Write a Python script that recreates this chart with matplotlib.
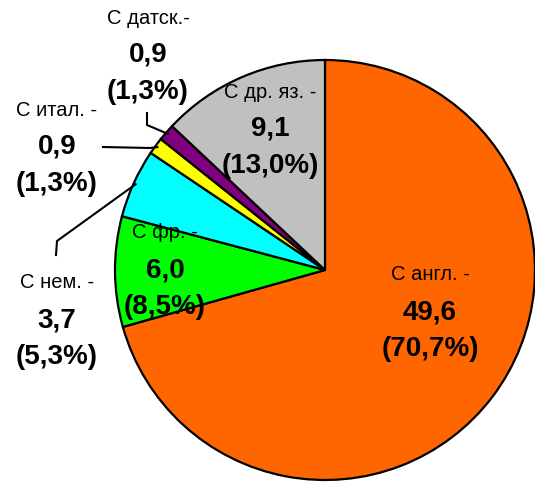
import matplotlib
matplotlib.use("Agg")
import matplotlib.pyplot as plt
import numpy as np

plt.rcParams['font.family'] = ['Liberation Sans', 'DejaVu Sans']

names = ["С англ. -", "С фр. -", "С нем. -", "С итал. -", "С датск.-", "С др. яз. -"]
values = [49.6, 6.0, 3.7, 0.9, 0.9, 9.1]
percents = [70.7, 8.5, 5.3, 1.3, 1.3, 13.0]
colors = ["#FF6600", "#00FF00", "#00FFFF", "#FFFF00", "#800080", "#C0C0C0"]

W, H = 535, 484
fig = plt.figure(figsize=(W / 100, H / 100), dpi=100)
ax = fig.add_axes([0, 0, 1, 1])

cx, cy, R = 325, H - 270, 210
wedges, _ = ax.pie(percents, colors=colors, startangle=90, counterclock=False,
                   center=(cx, cy), radius=R,
                   wedgeprops=dict(edgecolor="black", linewidth=1.6))
ax.set_xlim(0, W)
ax.set_ylim(0, H)
ax.set_aspect('equal')
ax.axis('off')

def fmt(v):
    return f"{v:.1f}".replace(".", ",")

# label anchor positions (image pixel coords: x, y of first line)
label_pos = [(430, 275), (165, 233), (57, 283), (57, 110), (148, 18), (270, 92)]
for i, (x, y) in enumerate(label_pos):
    ax.text(x, H - y, names[i], ha='center', va='center', fontsize=14.5)
    ax.text(x, H - (y + 37), fmt(values[i]), ha='center', va='center',
            fontsize=20, fontweight='bold')
    ax.text(x, H - (y + 74), f"({fmt(percents[i])}%)", ha='center', va='center',
            fontsize=20, fontweight='bold')

def edge_point(w, r_frac=1.0):
    ang = np.deg2rad((w.theta1 + w.theta2) / 2)
    return cx + R * r_frac * np.cos(ang), cy + R * r_frac * np.sin(ang)

# leader lines
ex, ey = edge_point(wedges[4], 0.99)
ax.plot([147, 147, ex], [H - 113, H - 125, ey], color='black', lw=1.5)
ex, ey = edge_point(wedges[3], 0.99)
ax.plot([103, 150, ex], [H - 147, H - 148, ey], color='black', lw=1.5)
ex, ey = edge_point(wedges[2], 0.99)
ax.plot([56, 57, ex], [H - 255, H - 241, ey], color='black', lw=1.5)

fig.savefig("out.png", dpi=100)
